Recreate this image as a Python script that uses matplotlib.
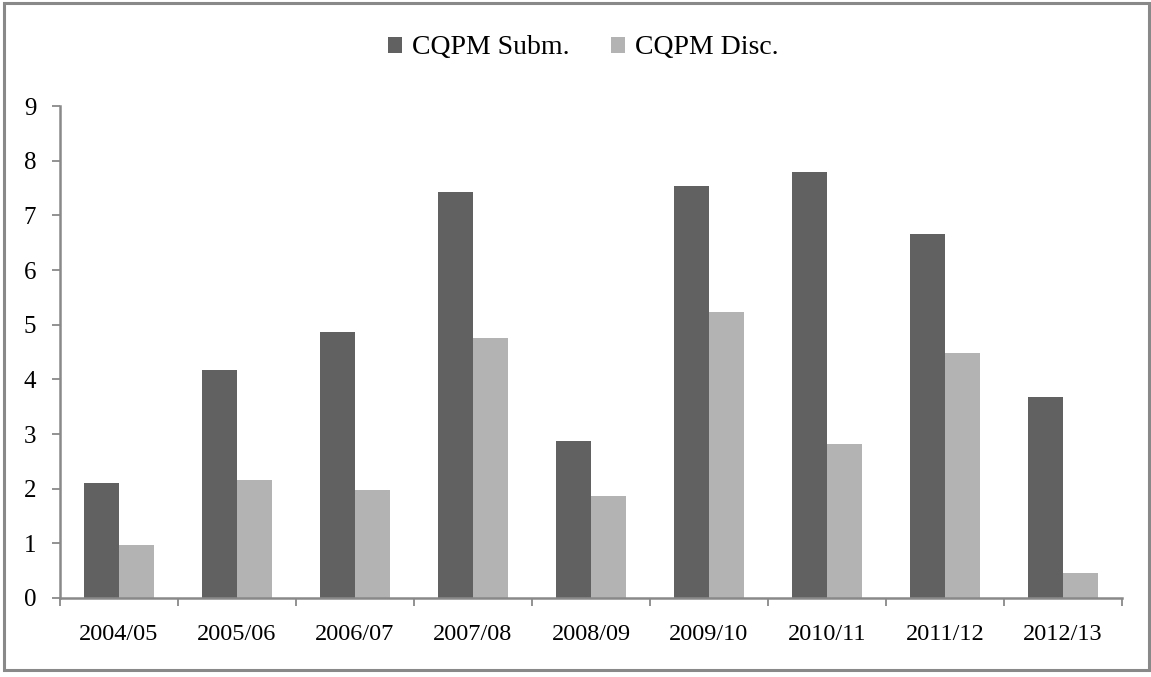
import matplotlib.pyplot as plt
import numpy as np
from matplotlib.patches import Rectangle

seasons = ["2004/05", "2005/06", "2006/07", "2007/08", "2008/09",
           "2009/10", "2010/11", "2011/12", "2012/13"]
cqpm_subm = [2.11, 4.17, 4.86, 7.43, 2.88, 7.54, 7.79, 6.66, 3.67]
cqpm_disc = [0.97, 2.15, 1.97, 4.75, 1.87, 5.23, 2.81, 4.49, 0.46]

DARK = "#616161"
LIGHT = "#b3b3b3"
AXIS_GREY = "#898989"

plt.rcParams["font.family"] = ["Liberation Serif", "DejaVu Serif"]

fig = plt.figure(figsize=(11.51, 6.77), dpi=100)
ax = fig.add_axes([0.0521, 0.1167, 0.9227, 0.7267])

x = np.arange(len(seasons))
w = 0.293
ax.bar(x - w / 2, cqpm_subm, width=w, color=DARK, label="CQPM Subm.")
ax.bar(x + w / 2, cqpm_disc, width=w, color=LIGHT, label="CQPM Disc.")

ax.set_xlim(-0.5, len(seasons) - 0.5)
ax.set_ylim(0, 9)
ax.set_yticks(range(0, 10))

# category labels at centres, tick marks at the boundaries
ax.set_xticks(x)
ax.set_xticklabels(seasons)
ax.set_xticks(np.arange(-0.5, len(seasons), 1.0), minor=True)
ax.tick_params(axis="x", which="major", length=0, pad=19, labelsize=17.5)
ax.tick_params(axis="x", which="minor", length=6, width=1.3, color=AXIS_GREY)
ax.tick_params(axis="y", length=6, width=1.3, color=AXIS_GREY, pad=11,
               labelsize=18)

for side in ("top", "right"):
    ax.spines[side].set_visible(False)
for side in ("left", "bottom"):
    ax.spines[side].set_color(AXIS_GREY)
    ax.spines[side].set_linewidth(1.8)

fig.legend(loc="center", bbox_to_anchor=(0.507, 1 - 48 / 677), ncol=2,
           frameon=False, fontsize=20, handlelength=0.5, handleheight=0.5,
           handletextpad=0.35, columnspacing=1.5)

# outer frame around the whole chart
fig.patches.append(Rectangle((4 / 1151, 7 / 677), 1145 / 1151, 667 / 677,
                             transform=fig.transFigure, fill=False,
                             edgecolor=AXIS_GREY, linewidth=2.2))

fig.savefig("out.png", dpi=100)
